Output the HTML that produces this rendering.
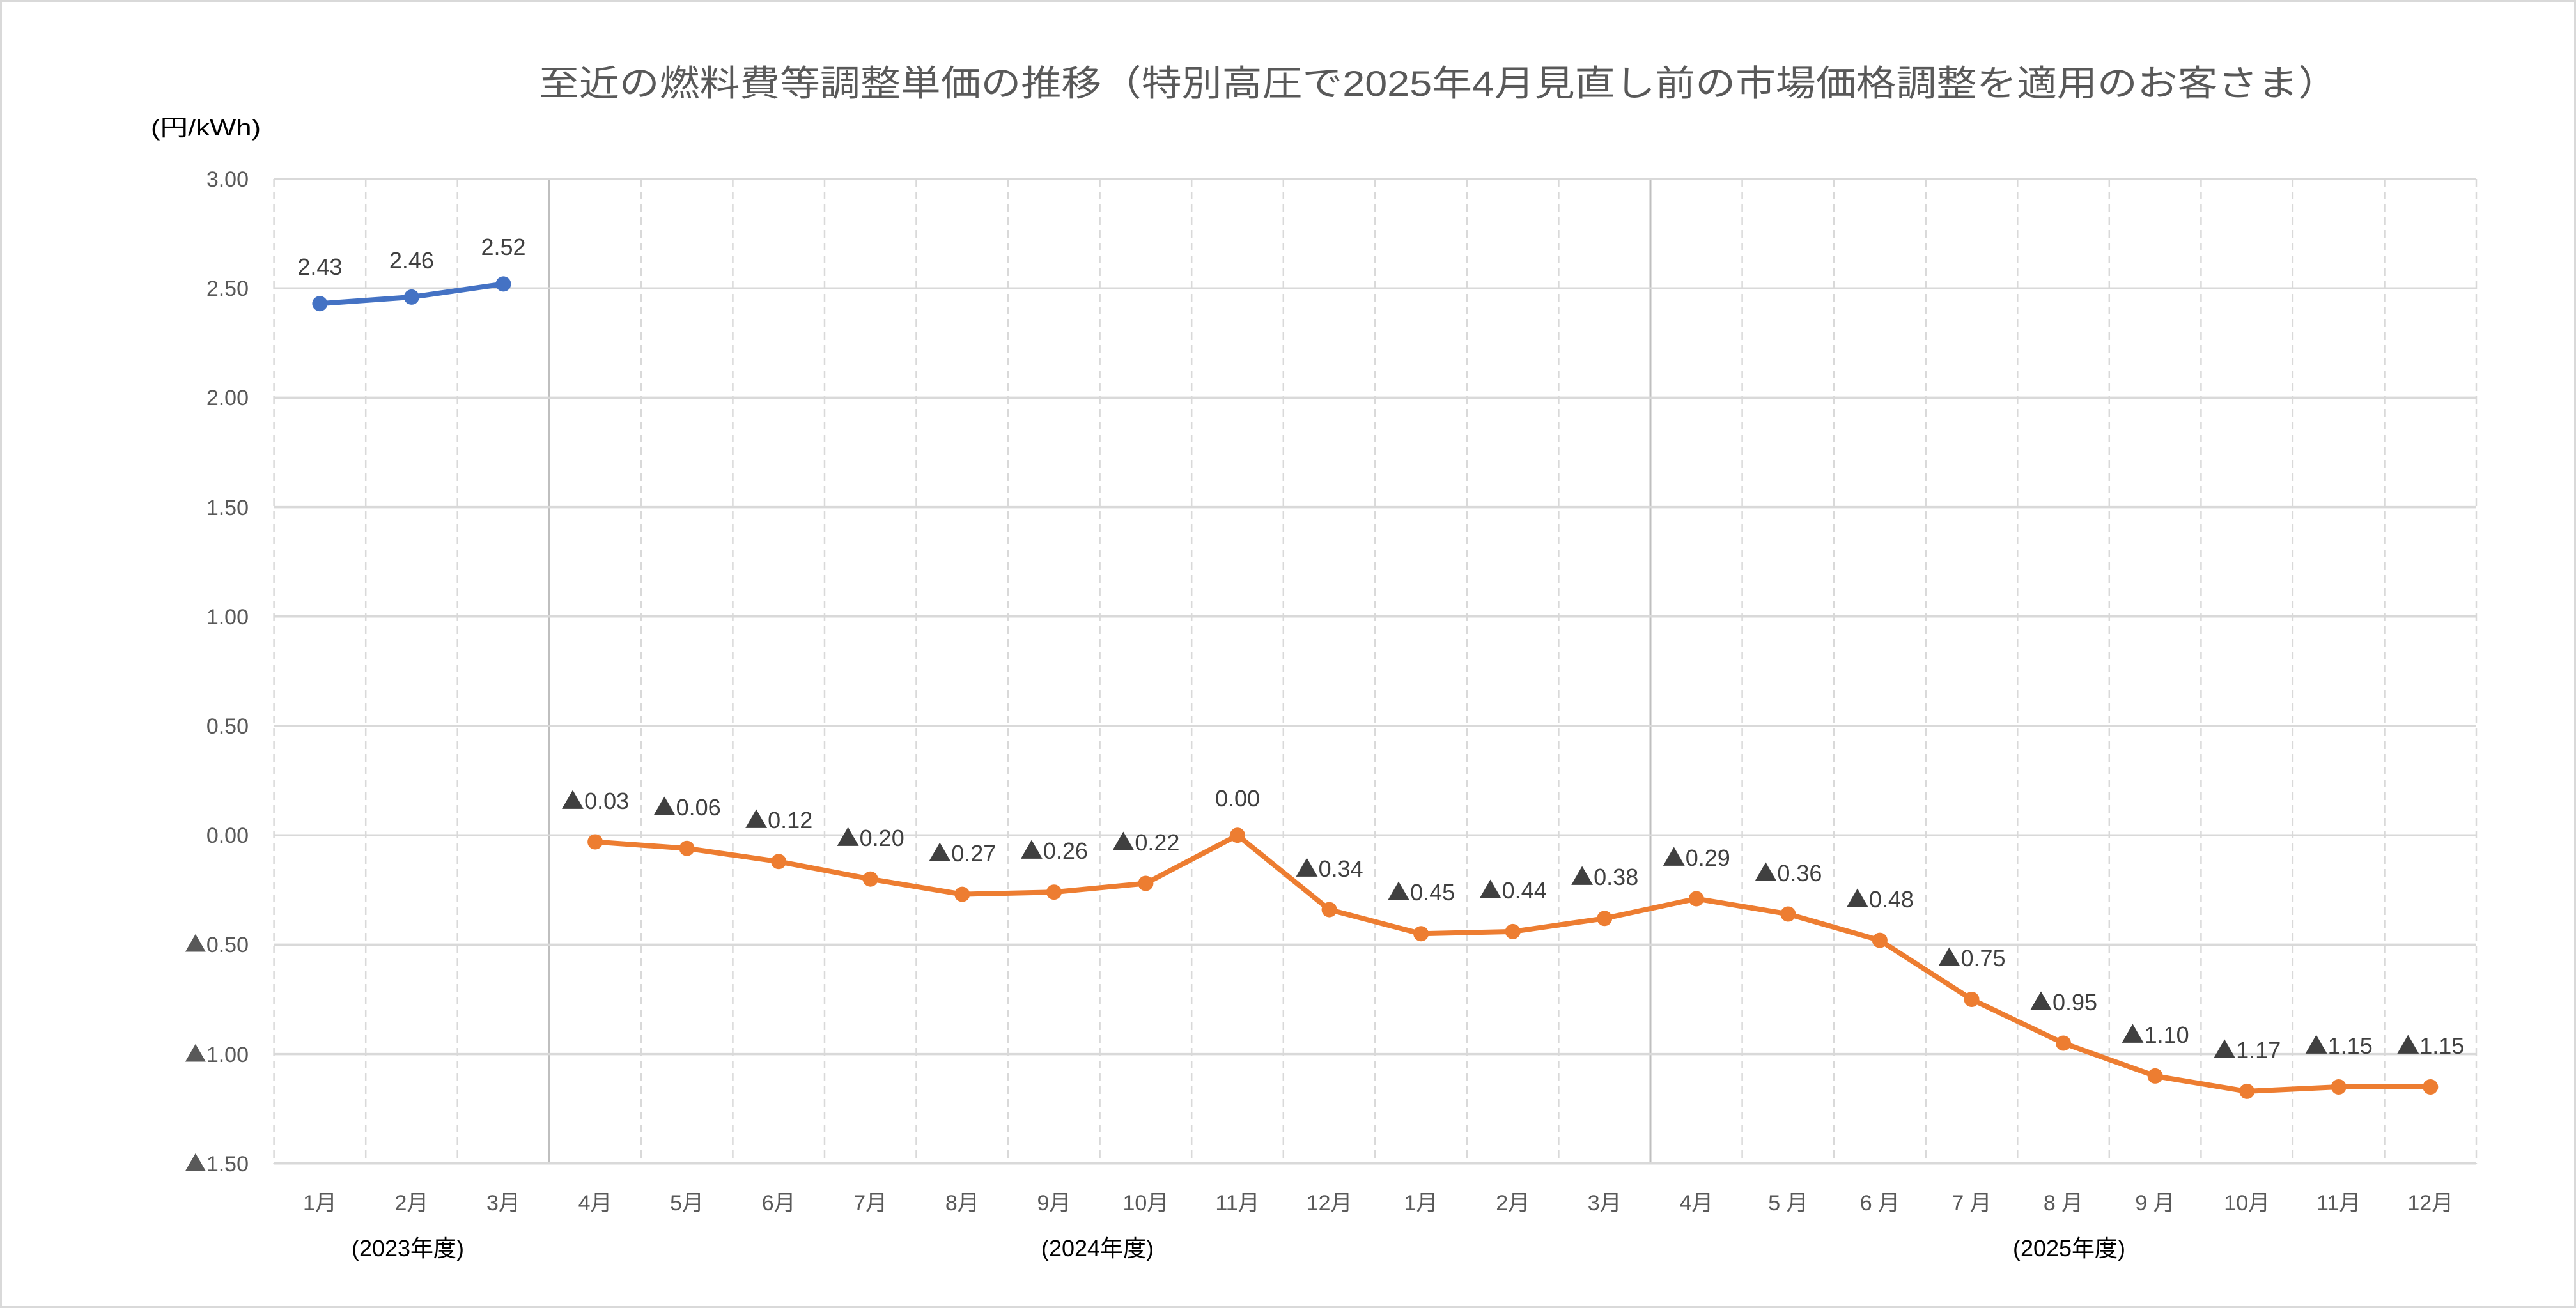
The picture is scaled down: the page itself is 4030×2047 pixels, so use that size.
<!DOCTYPE html>
<html><head><meta charset="utf-8"><style>
html,body{margin:0;padding:0;background:#fff}
svg{display:block}
text{font-family:"Liberation Sans","Noto Sans CJK JP",sans-serif}
.t{font-family:"Noto Sans CJK JP",sans-serif}
</style></head><body>
<svg width="4030" height="2047" viewBox="0 0 4030 2047" xmlns="http://www.w3.org/2000/svg">
<rect x="1.5" y="1.5" width="4027" height="2044" fill="#fff" stroke="#d9d9d9" stroke-width="3"/>
<text x="843" y="150" font-size="56" fill="#595959" textLength="2815" lengthAdjust="spacingAndGlyphs">至近の燃料費等調整単価の推移（特別高圧で2025年4月見直し前の市場価格調整を適用のお客さま）</text>
<text x="236" y="212" font-size="36" fill="#000" textLength="172" lengthAdjust="spacingAndGlyphs">(円/kWh)</text>
<g stroke="#d9d9d9" stroke-width="2.5" stroke-dasharray="12,8">
<line x1="428.6" y1="280" x2="428.6" y2="1821"/><line x1="572.2" y1="280" x2="572.2" y2="1821"/><line x1="715.7" y1="280" x2="715.7" y2="1821"/>
<line x1="1002.9" y1="280" x2="1002.9" y2="1821"/><line x1="1146.4" y1="280" x2="1146.4" y2="1821"/><line x1="1290" y1="280" x2="1290" y2="1821"/><line x1="1433.5" y1="280" x2="1433.5" y2="1821"/><line x1="1577.1" y1="280" x2="1577.1" y2="1821"/><line x1="1720.6" y1="280" x2="1720.6" y2="1821"/><line x1="1864.2" y1="280" x2="1864.2" y2="1821"/><line x1="2007.8" y1="280" x2="2007.8" y2="1821"/><line x1="2151.3" y1="280" x2="2151.3" y2="1821"/><line x1="2294.9" y1="280" x2="2294.9" y2="1821"/><line x1="2438.4" y1="280" x2="2438.4" y2="1821"/>
<line x1="2725.6" y1="280" x2="2725.6" y2="1821"/><line x1="2869.1" y1="280" x2="2869.1" y2="1821"/><line x1="3012.7" y1="280" x2="3012.7" y2="1821"/><line x1="3156.3" y1="280" x2="3156.3" y2="1821"/><line x1="3299.8" y1="280" x2="3299.8" y2="1821"/><line x1="3443.4" y1="280" x2="3443.4" y2="1821"/><line x1="3586.9" y1="280" x2="3586.9" y2="1821"/><line x1="3730.5" y1="280" x2="3730.5" y2="1821"/><line x1="3874" y1="280" x2="3874" y2="1821"/>
</g>
<g stroke="#bfbfbf" stroke-width="3">
<line x1="859.3" y1="280" x2="859.3" y2="1821"/><line x1="2582" y1="280" x2="2582" y2="1821"/>
</g>
<g stroke="#d9d9d9" stroke-width="3.5">
<line x1="428.6" y1="280" x2="3874" y2="280"/><line x1="428.6" y1="451.2" x2="3874" y2="451.2"/><line x1="428.6" y1="622.4" x2="3874" y2="622.4"/><line x1="428.6" y1="793.6" x2="3874" y2="793.6"/><line x1="428.6" y1="964.8" x2="3874" y2="964.8"/><line x1="428.6" y1="1136" x2="3874" y2="1136"/><line x1="428.6" y1="1307.2" x2="3874" y2="1307.2"/><line x1="428.6" y1="1478.4" x2="3874" y2="1478.4"/><line x1="428.6" y1="1649.6" x2="3874" y2="1649.6"/><line x1="428.6" y1="1820.8" x2="3874" y2="1820.8"/>
</g>
<g font-size="34" fill="#595959" text-anchor="end">
<text x="389" y="292">3.00</text><text x="389" y="463">2.50</text><text x="389" y="634">2.00</text><text x="389" y="806">1.50</text><text x="389" y="977">1.00</text><text x="389" y="1148">0.50</text><text x="389" y="1319">0.00</text><text x="389" y="1490"><tspan class="t">▲</tspan>0.50</text><text x="389" y="1662"><tspan class="t">▲</tspan>1.00</text><text x="389" y="1833"><tspan class="t">▲</tspan>1.50</text>
</g>
<g font-size="34" fill="#595959" text-anchor="middle">
<text x="500.4" y="1894">1月</text><text x="643.9" y="1894">2月</text><text x="787.5" y="1894">3月</text><text x="931.1" y="1894">4月</text><text x="1074.6" y="1894">5月</text><text x="1218.2" y="1894">6月</text><text x="1361.7" y="1894">7月</text><text x="1505.3" y="1894">8月</text><text x="1648.9" y="1894">9月</text><text x="1792.4" y="1894">10月</text><text x="1936" y="1894">11月</text><text x="2079.6" y="1894">12月</text><text x="2223.1" y="1894">1月</text><text x="2366.7" y="1894">2月</text><text x="2510.2" y="1894">3月</text><text x="2653.8" y="1894">4月</text><text x="2797.4" y="1894">5 月</text><text x="2940.9" y="1894">6 月</text><text x="3084.5" y="1894">7 月</text><text x="3228" y="1894">8 月</text><text x="3371.6" y="1894">9 月</text><text x="3515.2" y="1894">10月</text><text x="3658.7" y="1894">11月</text><text x="3802.3" y="1894">12月</text>
</g>
<g font-size="36" fill="#000" text-anchor="middle">
<text x="638" y="1966">(2023年度)</text><text x="1717" y="1966">(2024年度)</text><text x="3237" y="1966">(2025年度)</text>
</g>
<polyline fill="none" stroke="#4472C4" stroke-width="8" stroke-linejoin="round" points="500.4,475.2 643.9,464.9 787.5,444.4"/>
<g fill="#4472C4"><circle cx="500.4" cy="475.2" r="12"/><circle cx="643.9" cy="464.9" r="12"/><circle cx="787.5" cy="444.4" r="12"/></g>
<polyline fill="none" stroke="#ED7D31" stroke-width="8" stroke-linejoin="round" points="931.1,1317.5 1074.6,1327.7 1218.2,1348.3 1361.7,1375.7 1505.3,1399.6 1648.9,1396.2 1792.4,1382.5 1936,1307.2 2079.6,1423.6 2223.1,1461.3 2366.7,1457.9 2510.2,1437.3 2653.8,1406.5 2797.4,1430.5 2940.9,1471.6 3084.5,1564 3228,1632.5 3371.6,1683.9 3515.2,1707.9 3658.7,1701 3802.3,1701"/>
<g fill="#ED7D31">
<circle cx="931.1" cy="1317.5" r="12"/><circle cx="1074.6" cy="1327.7" r="12"/><circle cx="1218.2" cy="1348.3" r="12"/><circle cx="1361.7" cy="1375.7" r="12"/><circle cx="1505.3" cy="1399.6" r="12"/><circle cx="1648.9" cy="1396.2" r="12"/><circle cx="1792.4" cy="1382.5" r="12"/><circle cx="1936" cy="1307.2" r="12"/><circle cx="2079.6" cy="1423.6" r="12"/><circle cx="2223.1" cy="1461.3" r="12"/><circle cx="2366.7" cy="1457.9" r="12"/><circle cx="2510.2" cy="1437.3" r="12"/><circle cx="2653.8" cy="1406.5" r="12"/><circle cx="2797.4" cy="1430.5" r="12"/><circle cx="2940.9" cy="1471.6" r="12"/><circle cx="3084.5" cy="1564" r="12"/><circle cx="3228" cy="1632.5" r="12"/><circle cx="3371.6" cy="1683.9" r="12"/><circle cx="3515.2" cy="1707.9" r="12"/><circle cx="3658.7" cy="1701" r="12"/><circle cx="3802.3" cy="1701" r="12"/>
</g>
<g font-size="36" fill="#404040" text-anchor="middle">
<text x="500.4" y="430">2.43</text><text x="643.9" y="420">2.46</text><text x="787.5" y="399">2.52</text>
<text x="931.1" y="1266"><tspan class="t">▲</tspan>0.03</text><text x="1074.6" y="1276"><tspan class="t">▲</tspan>0.06</text><text x="1218.2" y="1296"><tspan class="t">▲</tspan>0.12</text><text x="1361.7" y="1324"><tspan class="t">▲</tspan>0.20</text><text x="1505.3" y="1348"><tspan class="t">▲</tspan>0.27</text><text x="1648.9" y="1344"><tspan class="t">▲</tspan>0.26</text><text x="1792.4" y="1331"><tspan class="t">▲</tspan>0.22</text><text x="1936" y="1262">0.00</text><text x="2079.6" y="1372"><tspan class="t">▲</tspan>0.34</text><text x="2223.1" y="1409"><tspan class="t">▲</tspan>0.45</text><text x="2366.7" y="1406"><tspan class="t">▲</tspan>0.44</text><text x="2510.2" y="1385"><tspan class="t">▲</tspan>0.38</text><text x="2653.8" y="1355"><tspan class="t">▲</tspan>0.29</text><text x="2797.4" y="1379"><tspan class="t">▲</tspan>0.36</text><text x="2940.9" y="1420"><tspan class="t">▲</tspan>0.48</text><text x="3084.5" y="1512"><tspan class="t">▲</tspan>0.75</text><text x="3228" y="1581"><tspan class="t">▲</tspan>0.95</text><text x="3371.6" y="1632"><tspan class="t">▲</tspan>1.10</text><text x="3515.2" y="1656"><tspan class="t">▲</tspan>1.17</text><text x="3658.7" y="1649"><tspan class="t">▲</tspan>1.15</text><text x="3802.3" y="1649"><tspan class="t">▲</tspan>1.15</text>
</g>
</svg>
</body></html>
